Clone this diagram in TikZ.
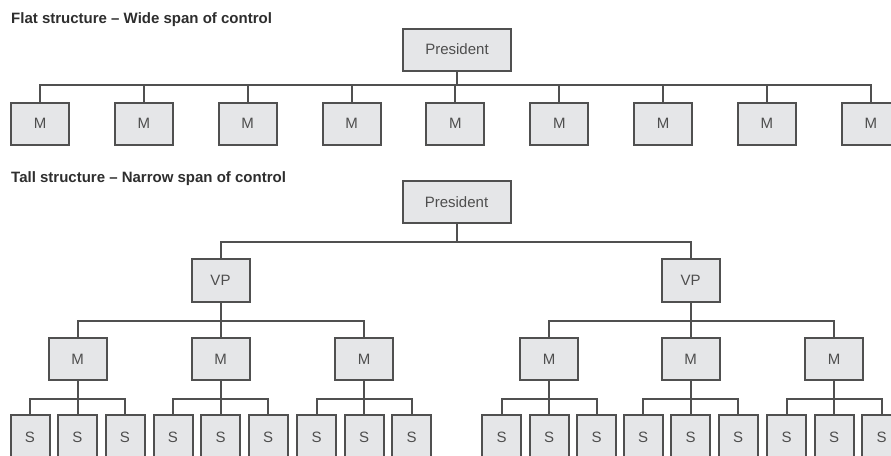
\documentclass[tikz,border=0pt]{standalone}
\usepackage{fontspec}
\setmainfont{Liberation Sans}
\definecolor{linec}{HTML}{505050}
\definecolor{boxfill}{HTML}{E5E6E8}
\definecolor{txtc}{HTML}{4E4E4E}
\definecolor{titlec}{HTML}{2E2E2E}
\begin{document}
\begin{tikzpicture}[x=1pt,y=-1pt,
  orgbox/.style={draw=linec,fill=boxfill,line width=2pt,inner sep=0pt,minimum height=42pt,font=\fontsize{15}{18}\selectfont,text=txtc},
  mbox/.style={orgbox,minimum width=58pt},
  pbox/.style={orgbox,minimum width=108pt},
  sbox/.style={orgbox,minimum width=39pt,minimum height=44pt},
  conn/.style={draw=linec,line width=2pt},
  title/.style={anchor=base west,inner sep=0pt,font=\fontsize{15}{18}\selectfont\bfseries,text=titlec}]
\useasboundingbox (0,0) rectangle (891,455);
\clip (0,0) rectangle (891,455);
\fill[white] (0,0) rectangle (891,455);

% titles
\node[title] (t1) at (11,23.5) {Flat structure – Wide span of control};
\node[title] (t2) at (11,182.5) {Tall structure – Narrow span of control};

% bar levels
\coordinate (fbar) at (0,85);
\coordinate (tbar1) at (0,242);
\coordinate (tbar2) at (0,321);
\coordinate (tbar3) at (0,399);

% flat structure
\node[pbox] (fp) at (457,49.5) {President};
\foreach \i in {1,...,9}
  \node[mbox] (fm\i) at ({40+103.85*(\i-1)},123.5) {M};
\draw[conn] (fp.south) -- (fp.south |- fbar);
\draw[conn] (fm1.north) |- (fm9.north |- fbar) -- (fm9.north);
\foreach \i in {2,...,8}
  \draw[conn] (fm\i.north |- fbar) -- (fm\i.north);

% tall structure
\node[pbox] (tp) at (456.5,202) {President};
\node[mbox,minimum height=43pt] (vp1) at (220.5,280) {VP};
\node[mbox,minimum height=43pt] (vp2) at (690.5,280) {VP};
\foreach \k/\mx in {1/77.5,2/220.5,3/364,4/549,5/690.5,6/834} {
  \node[mbox] (m\k) at (\mx,359) {M};
  \foreach \j in {1,2,3}
    \node[sbox] (s\k\j) at ({\mx+47.5*(\j-2)},437) {S};
}
\draw[conn] (tp.south) -- (tp.south |- tbar1);
\draw[conn] (vp1.north) |- (vp2.north |- tbar1) -- (vp2.north);

\draw[conn] (vp1.south) -- (vp1.south |- tbar2);
\draw[conn] (m1.north) |- (m3.north |- tbar2) -- (m3.north);
\draw[conn] (m2.north |- tbar2) -- (m2.north);
\draw[conn] (vp2.south) -- (vp2.south |- tbar2);
\draw[conn] (m4.north) |- (m6.north |- tbar2) -- (m6.north);
\draw[conn] (m5.north |- tbar2) -- (m5.north);

\foreach \k in {1,...,6} {
  \draw[conn] (m\k.south) -- (m\k.south |- tbar3);
  \draw[conn] (s\k1.north) |- (s\k3.north |- tbar3) -- (s\k3.north);
  \draw[conn] (s\k2.north |- tbar3) -- (s\k2.north);
}
\end{tikzpicture}
\end{document}
